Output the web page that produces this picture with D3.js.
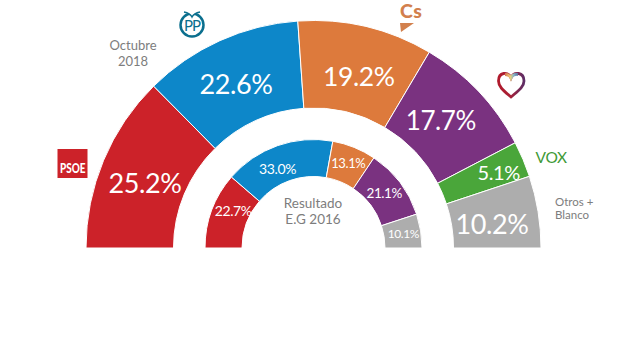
<!DOCTYPE html>
<html>
<head>
<meta charset="utf-8">
<script src="https://cdn.jsdelivr.net/npm/d3@7"></script>
<style>
  html, body { margin: 0; background: #fff; }
  text { font-family: "Lato", sans-serif; }
</style>
</head>
<body>
<div id="chart"></div>
<script>
// Estimacion de voto, octubre 2018 vs resultado E.G 2016
const parties2018 = ["PSOE", "PP", "Cs", "Podemos", "VOX", "Otros"];
const values2018 = [25.2, 22.6, 19.2, 17.7, 5.1, 10.2];
const colors2018 = ["#cc2229", "#0d87c9", "#dd7a3c", "#7a3280", "#4aa63a", "#adadad"];

const parties2016 = ["PSOE", "PP", "Cs", "Podemos", "Otros"];
const values2016 = [22.7, 33.0, 13.1, 21.1, 10.1];
const colors2016 = ["#cc2229", "#0d87c9", "#dd7a3c", "#7a3280", "#adadad"];

const width = 624, height = 351;
const cx = 313.5, cy = 248;

let svg = d3.select("#chart")
    .append("svg")
    .attr("width", width)
    .attr("height", height)
    .attr("viewBox", [0, 0, width, height])
    .style("display", "block");

// half donut, left to right
const pie = d3.pie()
    .sort(null)
    .startAngle(-Math.PI / 2)
    .endAngle(Math.PI / 2);

function ring(values, colors, inner, outer, sizes, nudge) {
    let arc = d3.arc().innerRadius(inner).outerRadius(outer);
    let g = svg.append("g").attr("transform", `translate(${cx},${cy})`);
    let slices = g.selectAll("g").data(pie(values)).join("g");

    slices.append("path")
        .attr("d", arc)
        .attr("fill", (d, i) => colors[i])
        .attr("stroke", "#fff")
        .attr("stroke-width", 1);

    // labels sit near the centroid, the original moves them around a bit
    slices.append("text")
        .text(d => d.value.toFixed(1) + "%")
        .attr("x", (d, i) => arc.centroid(d)[0] + nudge[i][0])
        .attr("y", (d, i) => arc.centroid(d)[1] + nudge[i][1])
        .attr("text-anchor", "middle")
        .attr("dominant-baseline", "central")
        .attr("fill", "#fff")
        .attr("font-size", (d, i) => sizes[i])
        .attr("letter-spacing", -0.4);
}

ring(values2018, colors2018, 140, 227.5, [27, 27, 26.5, 26, 20, 27],
    [[1, 5], [-2, 3], [3, 7], [-6, -2], [16, -4], [-3, 5]]);
ring(values2016, colors2016, 71.5, 108.5, [14, 14, 13, 13.5, 12],
    [[4, -6], [-6, 5], [1, -2], [-1, -1], [1, 0]]);

// grey captions
function caption(lines, x, y, anchor, size, step) {
    lines.forEach((t, i) => {
        svg.append("text")
            .text(t)
            .attr("x", x)
            .attr("y", y + i * step)
            .attr("text-anchor", anchor)
            .attr("fill", "#7d7d7d")
            .attr("font-size", size);
    });
}
caption(["Octubre", "2018"], 133, 50, "middle", 13, 16);
caption(["Resultado", "E.G 2016"], 313, 208, "middle", 13.5, 16);
caption(["Otros +", "Blanco"], 555, 206, "start", 11.5, 12.5);

// PSOE logo
svg.append("rect")
    .attr("x", 57.5).attr("y", 149)
    .attr("width", 30).attr("height", 29)
    .attr("fill", "#cc2229");
svg.append("text")
    .text("PSOE")
    .attr("x", 60).attr("y", 172.5)
    .attr("fill", "#fff")
    .attr("font-size", 12.5)
    .attr("font-weight", 900)
    .attr("textLength", 25.5)
    .attr("lengthAdjust", "spacingAndGlyphs");

// PP logo
let pp = svg.append("g").attr("transform", "translate(192,25)");
pp.append("circle")
    .attr("r", 11.5)
    .attr("fill", "none")
    .attr("stroke", "#0b6f8e")
    .attr("stroke-width", 2.5);
pp.append("path")
    .attr("d", "M-8,-13 Q-2,-12 0,-8 Q2,-12 8,-13")
    .attr("fill", "#fff")
    .attr("stroke", "#0b6f8e")
    .attr("stroke-width", 1.5);
pp.append("text")
    .text("PP")
    .attr("y", 6)
    .attr("text-anchor", "middle")
    .attr("fill", "#0b6f8e")
    .attr("font-size", 15)
    .attr("letter-spacing", -1);

// Cs logo
svg.append("text")
    .text("Cs")
    .attr("x", 400).attr("y", 18)
    .attr("fill", "#d2804d")
    .attr("font-size", 19.5)
    .attr("font-weight", 900)
    .attr("letter-spacing", 0.5);
svg.append("path")
    .attr("d", "M400,23 L414,23 L401,32 Z")
    .attr("fill", "#d2804d");

// Podemos heart: red to purple base, pale colours over the top notch
const heartPath = "M511,97 C504,91 498.5,87 498.5,81 C498.5,72 508,71 511,78 C514,71 524,72 524,81 C524,87 518,91 511,97 Z";
let defs = svg.append("defs");
let heartBase = defs.append("linearGradient")
    .attr("id", "heartBase").attr("x1", 0).attr("x2", 1).attr("y1", 0).attr("y2", 0);
heartBase.append("stop").attr("offset", "0%").attr("stop-color", "#b01a2c");
heartBase.append("stop").attr("offset", "45%").attr("stop-color", "#a81f35");
heartBase.append("stop").attr("offset", "100%").attr("stop-color", "#5e2e66");
let heartTop = defs.append("linearGradient")
    .attr("id", "heartTop").attr("x1", 0).attr("x2", 1).attr("y1", 0).attr("y2", 0);
heartTop.append("stop").attr("offset", "0%").attr("stop-color", "#d8734f");
heartTop.append("stop").attr("offset", "40%").attr("stop-color", "#ecd27a");
heartTop.append("stop").attr("offset", "70%").attr("stop-color", "#7cb2c9");
heartTop.append("stop").attr("offset", "100%").attr("stop-color", "#5f6f9a");
svg.append("path")
    .attr("d", heartPath)
    .attr("fill", "none")
    .attr("stroke", "url(#heartBase)")
    .attr("stroke-width", 2.8);
svg.append("path")
    .attr("d", "M505,74.5 C507.5,74.5 510,75.5 511,78 C512.5,74.5 515,74 518,74.5")
    .attr("fill", "none")
    .attr("stroke", "url(#heartTop)")
    .attr("stroke-width", 2.8);

// VOX logo
svg.append("text")
    .text("VOX")
    .attr("x", 535.5).attr("y", 162.5)
    .attr("fill", "#3f9a37")
    .attr("font-size", 15.5)
    .attr("font-weight", 400)
    .attr("letter-spacing", -0.3);
</script>
</body>
</html>
